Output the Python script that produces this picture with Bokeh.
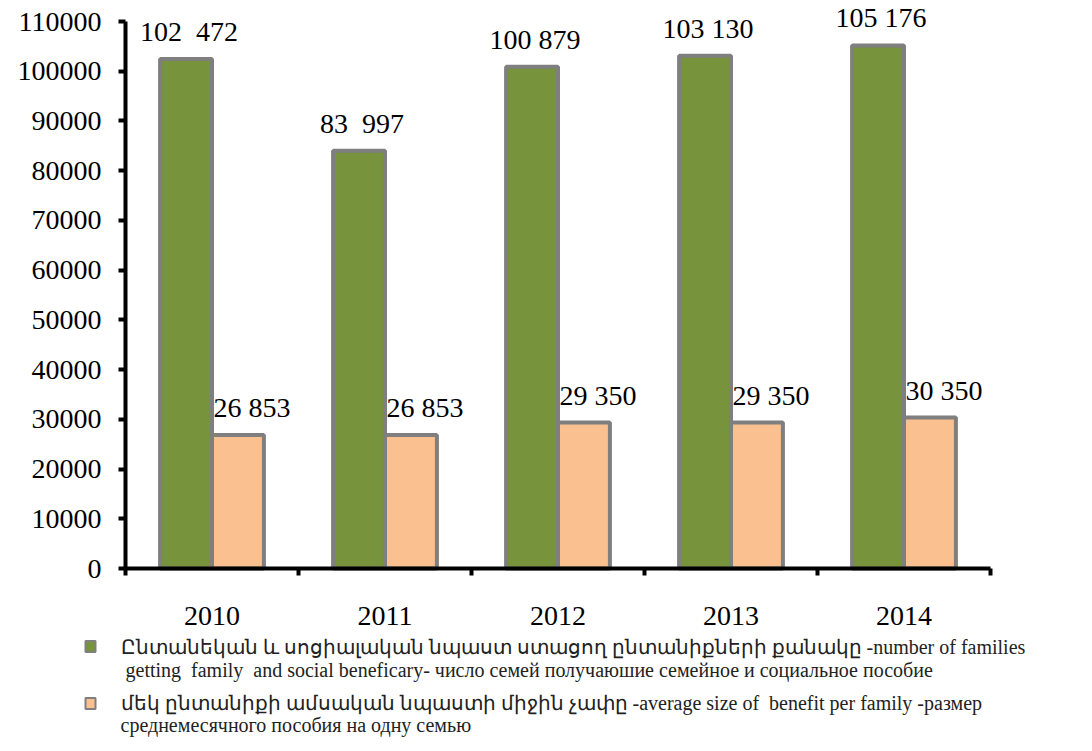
from bokeh.plotting import figure
from bokeh.models import Range1d, FixedTicker, ColumnDataSource, NumeralTickFormatter, Label
from bokeh.core.properties import value
from bokeh.embed import file_html
from bokeh.resources import INLINE

years = ["2010", "2011", "2012", "2013", "2014"]
families = [102472, 83997, 100879, 103130, 105176]
benefit = [26853, 26853, 29350, 29350, 30350]
families_labels = ["102 \u00a0472", "83 \u00a0997", "100 879", "103 130", "105 176"]
benefit_labels = ["26 853", "26 853", "29 350", "29 350", "30 350"]
y_ticks = [0, 10000, 20000, 30000, 40000, 50000, 60000, 70000, 80000, 90000, 100000, 110000]
legend_family = ["Ընտանեկան և սոցիալական նպաստ ստացող ընտանիքների քանակը -number of families",
                 "\u00a0getting \u00a0family \u00a0and social beneficary- число семей получаюшие семейное и социальное пособие"]
legend_benefit = ["մեկ ընտանիքի ամսական նպաստի միջին չափը -average size of \u00a0benefit per family -размер",
                  "среднемесячного пособия на одну семью"]

GREEN = "#77933c"
ORANGE = "#fac090"
GRAY = "#7f7f7f"
FONT = "Liberation Serif"

# layout (pixels): canvas size, and where the axes sit inside it
W, H = 1084, 743
AX_LEFT, AX_RIGHT = 125, 990      # x of category axis start / end
AX_BOTTOM, AX_TOP = 568, 21       # y (from top) of value 0 / value 110000
YMAX = 110000

n = len(years)
ux = (AX_RIGHT - AX_LEFT) / n
x0 = -AX_LEFT / ux
x1 = n + (W - AX_RIGHT) / ux
uy = (AX_BOTTOM - AX_TOP) / YMAX
y1 = YMAX + AX_TOP / uy
y0 = -(H - AX_BOTTOM) / uy

idx = list(range(n))
src = ColumnDataSource(dict(
    xg=[i + 0.35 for i in idx], xo=[i + 0.65 for i in idx],
    fam=families, ben=benefit, fl=families_labels, bl=benefit_labels))

p = figure(width=W, height=H, output_backend="svg", toolbar_location=None,
           x_range=Range1d(x0, x1), y_range=Range1d(y0, y1),
           frame_width=W, frame_height=H, min_border=0)
p.outline_line_color = None
p.grid.visible = False
p.background_fill_color = "white"
p.border_fill_color = "white"

p.vbar(x="xg", top="fam", width=0.3, source=src, fill_color=GREEN, line_color=GRAY, line_width=4)
p.vbar(x="xo", top="ben", width=0.3, source=src, fill_color=ORANGE, line_color=GRAY, line_width=4)

p.text(x="xg", y="fam", text="fl", source=src, text_align="center", text_baseline="bottom",
       y_offset=-12, x_offset=3, text_font=value(FONT), text_font_size="28px", text_color="black")
p.text(x="xo", y="ben", text="bl", source=src, text_align="center", text_baseline="bottom",
       y_offset=-12, x_offset=14, text_font=value(FONT), text_font_size="28px", text_color="black")

# y axis, drawn at x = 0
ya = p.yaxis[0]
ya.fixed_location = 0
ya.ticker = FixedTicker(ticks=y_ticks, minor_ticks=[])
ya.formatter = NumeralTickFormatter(format="0")
ya.bounds = (0, YMAX)
ya.axis_line_width = 4
ya.axis_line_color = "black"
ya.major_tick_out = 7
ya.major_tick_in = 0
ya.major_tick_line_width = 4
ya.minor_tick_out = 0
ya.minor_tick_in = 0
ya.major_label_standoff = 17
ya.major_label_text_font = FONT
ya.major_label_text_font_size = "28px"
ya.major_label_text_color = "black"

# x axis, drawn at y = 0; ticks between categories, labels at their centres
xa = p.xaxis[0]
xa.fixed_location = 0
xa.ticker = FixedTicker(ticks=[i + 0.5 for i in idx], minor_ticks=list(range(n + 1)))
xa.major_label_overrides = {i + 0.5: years[i] for i in idx}
xa.bounds = (0, n)
xa.axis_line_width = 4
xa.axis_line_color = "black"
xa.major_tick_out = 0
xa.major_tick_in = 0
xa.minor_tick_out = 7
xa.minor_tick_in = 0
xa.minor_tick_line_width = 4
xa.minor_tick_line_color = "black"
xa.major_label_standoff = 31
xa.major_label_text_font = FONT
xa.major_label_text_font_size = "28px"
xa.major_label_text_color = "black"

# legend (screen units: x from the left, y up from the bottom of the canvas)
TX, KX = 120, 90
def add_row(txt, sy):
    p.add_layout(Label(x=TX, y=sy, x_units="screen", y_units="screen", text=txt,
                       text_font=FONT, text_font_size="20px", text_color="#222222",
                       text_baseline="middle", text_align="left"))

def add_key(color, sy):
    p.add_layout(Label(x=KX, y=sy, x_units="screen", y_units="screen", text="\u2003",
                       text_font=FONT, text_font_size="10px", text_baseline="middle",
                       text_align="center", background_fill_color=color,
                       border_line_color=GRAY, border_line_width=2))

add_key(GREEN, H - 646)
add_row(legend_family[0], H - 646)
add_row(legend_family[1], H - 669)
add_key(ORANGE, H - 703)
add_row(legend_benefit[0], H - 702)
add_row(legend_benefit[1], H - 724)

open("out.html", "w").write(file_html(p, INLINE))
